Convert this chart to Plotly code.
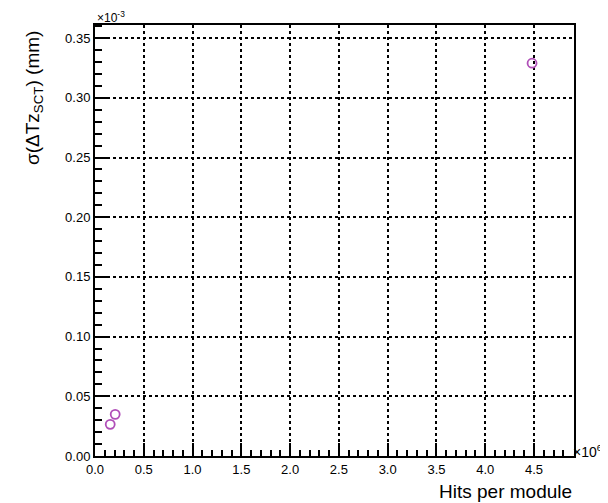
import plotly.graph_objects as go

# Data
hits_per_module = [0.156e6, 0.207e6, 4.48e6]
sigma_dtz_mm = [0.0265e-3, 0.0349e-3, 0.329e-3]

x_tick_vals = [0.0, 0.5, 1.0, 1.5, 2.0, 2.5, 3.0, 3.5, 4.0, 4.5]
y_tick_vals = [0.00, 0.05, 0.10, 0.15, 0.20, 0.25, 0.30, 0.35]

x_scale = 1e6
y_scale = 1e-3

xs = [v / x_scale for v in hits_per_module]
ys = [v / y_scale for v in sigma_dtz_mm]

font_family = "Liberation Sans, Arial, Helvetica, sans-serif"

fig = go.Figure()
fig.add_trace(go.Scatter(
    x=xs, y=ys, mode="markers",
    marker=dict(symbol="circle-open", size=9, color="#b04fb8", line=dict(width=1.8, color="#b04fb8")),
    showlegend=False,
))

axis_common = dict(
    showline=True, linecolor="black", linewidth=2, mirror=True,
    showgrid=True, gridcolor="black", griddash="dot", gridwidth=1.5,
    ticks="inside", tickcolor="black", tickwidth=2,
    zeroline=False, automargin=False,
    tickfont=dict(family=font_family, size=13, color="black"),
)

fig.update_xaxes(
    range=[0, 4.91], tickvals=x_tick_vals,
    ticktext=[f"{v:.1f}" for v in x_tick_vals],
    ticklen=13,
    minor=dict(ticks="inside", ticklen=6, tickwidth=1.5, dtick=0.1, tick0=0, tickcolor="black", showgrid=False),
    **axis_common,
)
fig.update_yaxes(
    range=[0, 0.361], tickvals=y_tick_vals,
    ticktext=[f"{v:.2f}" for v in y_tick_vals],
    ticklen=14,
    minor=dict(ticks="inside", ticklen=7, tickwidth=1.5, dtick=0.01, tick0=0, tickcolor="black", showgrid=False),
    **axis_common,
)

fig.update_layout(
    width=600, height=495,
    margin=dict(l=87, r=34, t=17, b=47),
    paper_bgcolor="white", plot_bgcolor="white",
    font=dict(family=font_family, color="black"),
    annotations=[
        dict(text="Hits per module", xref="paper", yref="paper", x=1.0, y=0.0,
             xanchor="right", yanchor="top", showarrow=False, yshift=-23,
             font=dict(family=font_family, size=19, color="black")),
        dict(text="σ(ΔTz<sub>SCT</sub>) (mm)", xref="paper", yref="paper", x=0.0, y=1.0,
             xanchor="center", yanchor="top", textangle=-90, showarrow=False,
             xshift=-61, yshift=-4,
             font=dict(family=font_family, size=19, color="black")),
        dict(text="×10<sup>-3</sup>", xref="paper", yref="paper", x=0.0, y=1.0,
             xanchor="left", yanchor="bottom", showarrow=False, yshift=-2,
             font=dict(family=font_family, size=12, color="black")),
        dict(text="×10<sup>6</sup>", xref="paper", yref="paper", x=1.0, y=0.0,
             xanchor="left", yanchor="bottom", showarrow=False, xshift=-3, yshift=-6,
             font=dict(family=font_family, size=14, color="black")),
    ],
)

fig.write_html("out.html")
